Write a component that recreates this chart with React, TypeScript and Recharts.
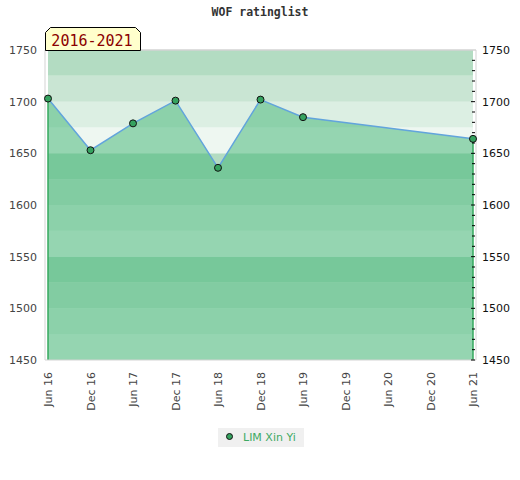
import { ComposedChart, Area, Line, XAxis, YAxis, ReferenceArea, ReferenceLine } from 'recharts';

const tickLabels = ['Jun 16', 'Dec 16', 'Jun 17', 'Dec 17', 'Jun 18', 'Dec 18', 'Jun 19', 'Dec 19', 'Jun 20', 'Dec 20', 'Jun 21'];
const periods = [0, 1, 2, 3, 4, 5, 6, 10];
const ratings = [1703, 1653, 1679, 1701, 1636, 1702, 1685, 1664];
const yTicks = [1450, 1500, 1550, 1600, 1650, 1700, 1750];
const playerName = 'LIM Xin Yi';

// background stripes, 25 points each, light to dark repeating every 100
const bandFloors = [1450, 1475, 1500, 1525, 1550, 1575, 1600, 1625, 1650, 1675, 1700, 1725];
const bandColors = ['#eef7f1', '#dcefe3', '#c9e5d3', '#b3dcc2'];

const minorTicks = Array.from({ length: 31 }, (_, i) => 1450 + i * 10);

const data = periods.map((p, i) => ({ period: p, rating: ratings[i] }));

const XTick = (props: any) => {
    const { x, y, payload } = props;
    return (
        <text
            x={x}
            y={y + 12}
            dy={4}
            transform={`rotate(-90, ${x}, ${y + 12})`}
            textAnchor='end'
            fill='#444'
            fontSize={11}
            fontFamily='DejaVu Sans'
        >
            {tickLabels[payload.value]}
        </text>
    );
};

// right axis: short marks inside the plot, labels only every 50
const RightTick = (props: any) => {
    const { x, y, payload } = props;
    const major = payload.value % 50 === 0;
    return (
        <g>
            {payload.value < 1750 && (
                <line x1={x - (major ? 5 : 4)} x2={x - 1} y1={y} y2={y} stroke='#000' strokeWidth={1} />
            )}
            {major && (
                <text x={x + 6} y={y} dy={4} fill='#111' fontSize={11} fontFamily='DejaVu Sans'>
                    {payload.value}
                </text>
            )}
        </g>
    );
};

const App = () => {
    const first = data[0];
    const last = data[data.length - 1];
    return (
        <div style={{ position: 'relative', width: 520, height: 480, background: '#fff' }}>
            <style>{'body{margin:0}'}</style>
            <div style={{ position: 'absolute', top: 5, left: 0, width: 520, textAlign: 'center', fontFamily: 'DejaVu Sans Mono', fontWeight: 'bold', fontSize: 11.5, color: '#333' }}>
                WOF ratinglist
            </div>
            <svg style={{ position: 'absolute', top: 0, left: 0, zIndex: 2 }} width={150} height={52}>
                <path d='M45.5,50.5 L45.5,32.5 L50.5,27.5 L135.5,27.5 L140.5,32.5 L140.5,50.5 Z' fill='#ffffcc' stroke='#000' />
                <text x={92} y={45.5} textAnchor='middle' fill='#8b0000' fontSize={15} fontFamily='DejaVu Sans Mono'>2016-2021</text>
            </svg>
            <ComposedChart width={520} height={480} data={data} margin={{ top: 50, right: 0, left: 0, bottom: 0 }}>
                {bandFloors.map((b, i) => (
                    <ReferenceArea
                        key={b}
                        yAxisId='left'
                        y1={b}
                        y2={b + 25}
                        fill={bandColors[i % 4]}
                        fillOpacity={1}
                        stroke='none'
                    />
                ))}
                <XAxis
                    dataKey='period'
                    type='number'
                    domain={[0, 10]}
                    ticks={[0, 1, 2, 3, 4, 5, 6, 7, 8, 9, 10]}
                    interval={0}
                    padding={{ left: 3, right: 3 }}
                    height={120}
                    tickLine={false}
                    tickSize={0}
                    tickMargin={0}
                    tick={<XTick />}
                    axisLine={{ stroke: '#d3d3d3' }}
                />
                <YAxis
                    yAxisId='left'
                    domain={[1450, 1750]}
                    ticks={yTicks}
                    interval={0}
                    width={45}
                    tickLine={false}
                    tickSize={0}
                    tickMargin={8}
                    tick={{ fill: '#444', fontSize: 11, fontFamily: 'DejaVu Sans' }}
                    axisLine={{ stroke: '#d3d3d3' }}
                />
                <YAxis
                    yAxisId='right'
                    orientation='right'
                    domain={[1450, 1750]}
                    ticks={minorTicks}
                    interval={0}
                    width={44}
                    tickLine={false}
                    tickSize={0}
                    tickMargin={0}
                    tick={<RightTick />}
                    axisLine={{ stroke: '#d3d3d3' }}
                />
                <ReferenceLine yAxisId='left' y={1750} stroke='#d3d3d3' strokeWidth={1.5} />
                <Area
                    yAxisId='left'
                    type='linear'
                    dataKey='rating'
                    name={playerName}
                    fill='#3cb371'
                    fillOpacity={0.5}
                    stroke='#62a4dc'
                    strokeWidth={1.5}
                    dot={{ r: 3.5, fill: '#35a25f', stroke: '#111', strokeWidth: 1, fillOpacity: 1 }}
                    isAnimationActive={false}
                />
                {/* keeps the right axis bound to the series */}
                <Line yAxisId='right' dataKey='rating' stroke='none' dot={false} activeDot={false} legendType='none' isAnimationActive={false} />
                <ReferenceLine yAxisId='left' segment={[{ x: first.period, y: 1450 }, { x: first.period, y: first.rating }]} stroke='#35a85e' strokeWidth={1.5} />
                <ReferenceLine yAxisId='left' segment={[{ x: last.period, y: 1450 }, { x: last.period, y: last.rating }]} stroke='#35a85e' strokeWidth={1.5} />
            </ComposedChart>
            <div style={{ position: 'absolute', left: 218, top: 428, width: 86, height: 19, background: '#f0f0f0', fontFamily: 'DejaVu Sans', fontSize: 11, color: '#3daa64', display: 'flex', alignItems: 'center' }}>
                <svg width={25} height={19}>
                    <circle cx={11.5} cy={8.5} r={3} fill='#35a25f' stroke='#111' />
                </svg>
                <span>{playerName}</span>
            </div>
        </div>
    );
};

export default App;
